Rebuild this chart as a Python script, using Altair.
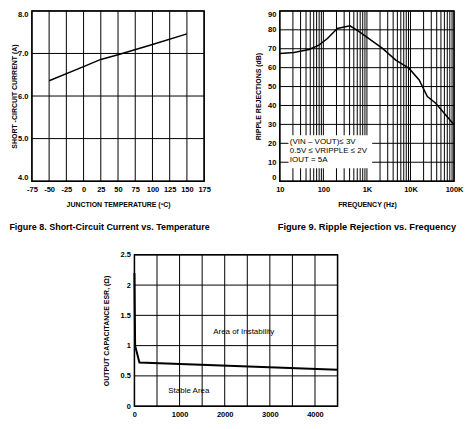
import altair as alt
import pandas as pd

FONT = "Liberation Sans"

# ---------------- Figure 8 data ----------------
temp_c = [-50, 0, 25, 50, 100, 150]
short_circuit_a = [6.36, 6.69, 6.86, 6.97, 7.21, 7.46]
temp_ticks = [-75, -50, -25, 0, 25, 50, 75, 100, 125, 150, 175]
current_ticks = [4.0, 5.0, 6.0, 7.0, 8.0]

# ---------------- Figure 9 data ----------------
freq_hz = [10, 21, 47, 79, 124, 209, 408, 662, 2280, 4600, 9300, 15800, 24400, 38000, 100000]
ripple_db = [67.5, 68.0, 69.6, 71.9, 75.4, 80.7, 82.1, 79.0, 70.2, 64.0, 59.6, 53.5, 44.7, 41.2, 29.8]
freq_grid = [m * 10 ** e for e in range(1, 5) for m in range(1, 10)] + [100000]
freq_labels = {10: "10", 100: "100", 1000: "1K", 10000: "10K", 100000: "100K"}
db_ticks = list(range(0, 91, 10))
note_lines = ["(VIN – VOUT)≤ 3V", "0.5V ≤ VRIPPLE ≤ 2V", "IOUT = 5A"]
note_y = [20.5, 15.8, 11.0]
note_x = [17, 17, 17]
note_box_x = [15.8, 1320]
note_box_y = [6.8, 24.2]

# ---------------- ESR chart data ----------------
cap_value = [0, 15, 110, 4500]
esr_ohm = [2.2, 1.0, 0.72, 0.60]
cap_ticks = [0, 500, 1000, 1500, 2000, 2500, 3000, 3500, 4000, 4500]
esr_ticks = [0, 0.5, 1.0, 1.5, 2.0, 2.5]
region_labels = ["Area of Instability", "Stable Area"]
region_x = [2420, 1205]
region_y = [1.22, 0.25]

common_axis = dict(
    domain=False, ticks=False, grid=False,
    labelFont=FONT, labelFontSize=7.5, labelFontWeight="bold", labelColor="black",
    labelOverlap=False, labelPadding=4,
    titleFont=FONT, titleFontSize=7, titleFontWeight="bold", titleColor="black",
)


def vgrid(values, field, scale, axis):
    return alt.Chart(pd.DataFrame({field: values})).mark_rule(color="black", strokeWidth=1).encode(
        x=alt.X(f"{field}:Q", scale=scale, axis=axis))


def hgrid(values, field, scale, axis):
    return alt.Chart(pd.DataFrame({field: values})).mark_rule(color="black", strokeWidth=1).encode(
        y=alt.Y(f"{field}:Q", scale=scale, axis=axis))


# ---------------- Chart A ----------------
xA = alt.Scale(domain=[-75, 175], nice=False, zero=False)
yA = alt.Scale(domain=[4, 8], nice=False, zero=False)
axXA = alt.Axis(values=temp_ticks, labelExpr="'' + datum.value", labelFlush=False,
                title="JUNCTION TEMPERATURE (ºC)", titlePadding=8, **common_axis)
axYA = alt.Axis(values=current_ticks, format=".1f", labelFlush=True,
                title="SHORT -CIRCUIT CURRENT (A)", titlePadding=0, **common_axis)
dfA = pd.DataFrame({"x": temp_c, "y": short_circuit_a})
lineA = alt.Chart(dfA).mark_line(color="black", strokeWidth=1.5).encode(
    x=alt.X("x:Q", scale=xA, axis=axXA), y=alt.Y("y:Q", scale=yA, axis=axYA))
chartA = alt.layer(
    vgrid(temp_ticks, "x", xA, axXA), hgrid(current_ticks, "y", yA, axYA), lineA
).properties(
    width=173, height=171,
    title=alt.TitleParams("Figure 8. Short-Circuit Current vs. Temperature", orient="bottom",
                          anchor="middle", frame="group", dx=-8.5, offset=16, font=FONT,
                          fontSize=9, fontWeight="bold", color="black"),
)

# ---------------- Chart B ----------------
label_expr = " : ".join(
    f"datum.value == {k} ? '{v}'" for k, v in freq_labels.items()
) + " : ''"
xB = alt.Scale(type="log", domain=[10, 100000], nice=False)
yB = alt.Scale(domain=[0, 90], nice=False, zero=False)
axXB = alt.Axis(values=freq_grid, labelExpr=label_expr, title="FREQUENCY (Hz)",
                labelFlush=False, titlePadding=8, **common_axis)
axYB = alt.Axis(values=db_ticks, title="RIPPLE REJECTIONS (dB)", titlePadding=6.5,
                labelFlush=True, **common_axis)
dfB = pd.DataFrame({"x": freq_hz, "y": ripple_db})
lineB = alt.Chart(dfB).mark_line(color="black", strokeWidth=1.5).encode(
    x=alt.X("x:Q", scale=xB, axis=axXB), y=alt.Y("y:Q", scale=yB, axis=axYB))
dfBox = pd.DataFrame({"x": [note_box_x[0]], "x2": [note_box_x[1]],
                      "y": [note_box_y[0]], "y2": [note_box_y[1]]})
boxB = alt.Chart(dfBox).mark_rect(color="white").encode(
    x=alt.X("x:Q", scale=xB, axis=axXB), x2="x2:Q",
    y=alt.Y("y:Q", scale=yB, axis=axYB), y2="y2:Q")
dfNote = pd.DataFrame({"x": note_x, "y": note_y, "t": note_lines})
textB = alt.Chart(dfNote).mark_text(align="left", baseline="middle", font=FONT, fontSize=8,
                                    color="black").encode(
    x=alt.X("x:Q", scale=xB, axis=axXB), y=alt.Y("y:Q", scale=yB, axis=axYB), text="t:N")
chartB = alt.layer(
    vgrid(freq_grid, "x", xB, axXB), hgrid(db_ticks, "y", yB, axYB), boxB, lineB, textB
).properties(
    width=175, height=171,
    title=alt.TitleParams("Figure 9. Ripple Rejection vs. Frequency", orient="bottom",
                          anchor="middle", frame="group", offset=16, font=FONT,
                          fontSize=9.3, fontWeight="bold", color="black"),
)

# ---------------- Chart C ----------------
xC = alt.Scale(domain=[0, 4500], nice=False, zero=False)
yC = alt.Scale(domain=[0, 2.5], nice=False, zero=False)
axXC = alt.Axis(values=cap_ticks, labelFlush=False,
                labelExpr="datum.value % 1000 == 0 ? '' + datum.value : ''",
                title=None, **common_axis)
axYC = alt.Axis(values=esr_ticks, labelExpr="'' + datum.value",
                title="OUTPUT CAPACITANCE ESR, (Ω)", titlePadding=11, **common_axis)
dfC = pd.DataFrame({"x": cap_value, "y": esr_ohm})
lineC = alt.Chart(dfC).mark_line(color="black", strokeWidth=2).encode(
    x=alt.X("x:Q", scale=xC, axis=axXC), y=alt.Y("y:Q", scale=yC, axis=axYC))
dfR = pd.DataFrame({"x": region_x, "y": region_y, "t": region_labels})
textC = alt.Chart(dfR).mark_text(align="center", baseline="middle", font=FONT, fontSize=8,
                                 color="black").encode(
    x=alt.X("x:Q", scale=xC, axis=axXC), y=alt.Y("y:Q", scale=yC, axis=axYC), text="t:N")
chartC = alt.layer(
    vgrid(cap_ticks, "x", xC, axXC), hgrid(esr_ticks, "y", yC, axYC), lineC, textC
).properties(width=204, height=152)

spacer = alt.Chart(pd.DataFrame({"a": [0]})).mark_point(opacity=0).encode(
    x=alt.X("a:Q", axis=None), y=alt.Y("a:Q", axis=None)
).properties(width=1, height=1, view=alt.ViewBackground(strokeOpacity=0))

top = alt.hconcat(chartA, chartB, spacing=76, bounds="flush")
bottom = alt.hconcat(spacer, chartC, spacing=102, bounds="flush")
chart = alt.vconcat(top, bottom, spacing=16, bounds="full").configure_view(
    stroke="black", strokeWidth=1.5
).properties(padding=0, background="white")

chart.save("out.html", embed_options={"renderer": "svg", "actions": False})
